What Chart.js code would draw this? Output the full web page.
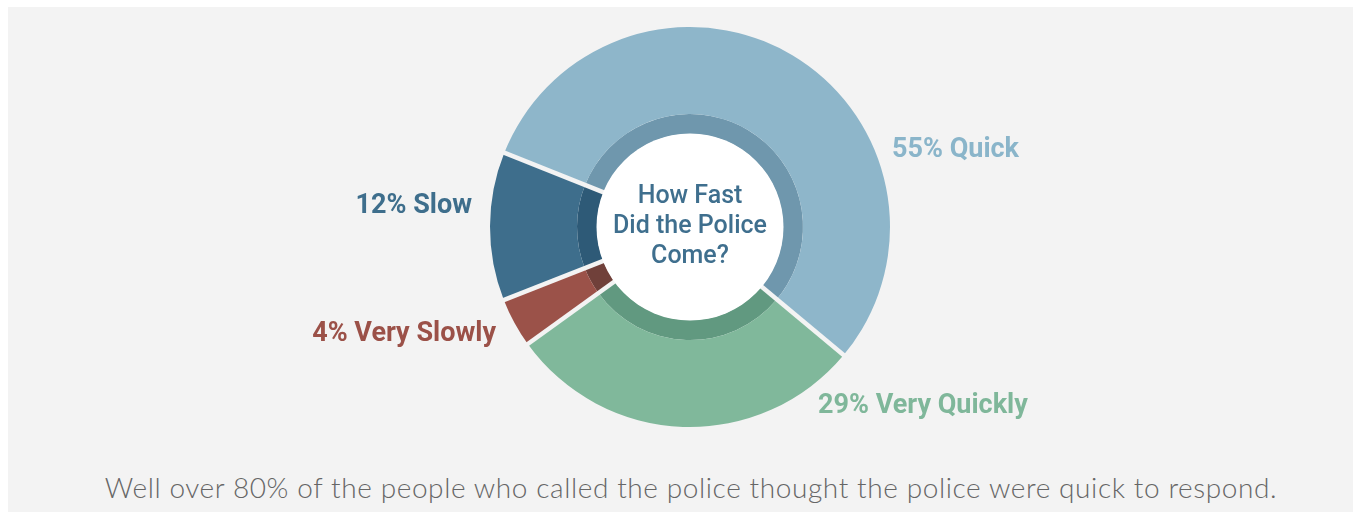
<!DOCTYPE html>
<html>
<head>
<meta charset="utf-8">
<script src="https://cdn.jsdelivr.net/npm/chart.js@4"></script>
<style>
  html, body { margin: 0; padding: 0; background: #ffffff; width: 1353px; height: 512px; overflow: hidden; }
  #panel { position: absolute; left: 8px; top: 7px; width: 1345px; height: 505px; background: #f3f3f3; }
  #chart { position: absolute; left: 0; top: 0; }
  #caption { position: absolute; left: 0; width: 1382px; top: 469px; text-align: center;
    font-family: "Lato", "Open Sans", sans-serif; font-weight: 300; font-size: 28px; letter-spacing: 0.6px; line-height: 36px; color: #666666; white-space: nowrap; }
</style>
</head>
<body>
<div id="panel"></div>
<canvas id="chart" width="1353" height="460"></canvas>
<div id="caption">Well over 80% of the people who called the police thought the police were quick to respond.</div>
<script>
const categories = ["Quick", "Very Quickly", "Very Slowly", "Slow"];
const shares = [55, 29, 4, 12];
const outerColors = ["#8eb6ca", "#80b89b", "#9b5249", "#3e6e8c"];
const innerColors = ["#6f97ad", "#619980", "#70403a", "#2e5a77"];
const labelColors = ["#8ab5ca", "#7fb79a", "#9b5148", "#3e6e8c"];
const centerTitle = ["How Fast", "Did the Police", "Come?"];

// label anchors relative to the doughnut centre, in units of the outer radius
const labelLayout = [
  { dx: 1.01, dy: -0.35, align: "left" },
  { dx: 0.64, dy: 0.93, align: "left" },
  { dx: -0.97, dy: 0.57, align: "right" },
  { dx: -1.09, dy: -0.07, align: "right" }
];

const BG = "#f3f3f3";

const decor = {
  id: "decor",
  afterDatasetsDraw(chart) {
    const ctx = chart.ctx;
    const outerMeta = chart.getDatasetMeta(0);
    const innerMeta = chart.getDatasetMeta(1);
    const a0 = outerMeta.data[0];
    const cx = a0.x, cy = a0.y;
    const R = a0.outerRadius;
    const rHole = innerMeta.data[0].innerRadius;
    // gaps between slices
    ctx.save();
    ctx.strokeStyle = BG;
    ctx.lineWidth = 4.5;
    outerMeta.data.forEach(arc => {
      const ang = arc.startAngle;
      ctx.beginPath();
      ctx.moveTo(cx + (rHole - 2) * Math.cos(ang), cy + (rHole - 2) * Math.sin(ang));
      ctx.lineTo(cx + (R + 3) * Math.cos(ang), cy + (R + 3) * Math.sin(ang));
      ctx.stroke();
    });
    // white centre
    ctx.fillStyle = "#ffffff";
    ctx.beginPath();
    ctx.arc(cx, cy, rHole + 0.5, 0, Math.PI * 2);
    ctx.fill();
    // centre title
    ctx.fillStyle = "#3f6f8e";
    ctx.font = "500 25px Roboto";
    ctx.textAlign = "center";
    ctx.textBaseline = "alphabetic";
    const offs = [-24, 6, 35.5];
    centerTitle.forEach((t, i) => ctx.fillText(t, cx, cy + offs[i]));
    // outside labels
    ctx.font = "700 27px Roboto";
    categories.forEach((c, i) => {
      const L = labelLayout[i];
      ctx.fillStyle = labelColors[i];
      ctx.textAlign = L.align;
      ctx.fillText(shares[i] + "% " + c, cx + L.dx * R, cy + L.dy * R);
    });
    ctx.restore();
  }
};

new Chart(document.getElementById("chart"), {
  type: "doughnut",
  data: {
    labels: categories,
    datasets: [
      { data: shares, backgroundColor: outerColors, borderWidth: 0, weight: 87 },
      { data: shares, backgroundColor: innerColors, borderWidth: 0, weight: 20 }
    ]
  },
  options: {
    responsive: false,
    animation: false,
    rotation: -68.2,
    cutout: "46.5%",
    layout: { padding: { left: 400, right: 373, top: 27, bottom: 33 } },
    plugins: { legend: { display: false }, tooltip: { enabled: false } }
  },
  plugins: [decor]
});
</script>
</body>
</html>
